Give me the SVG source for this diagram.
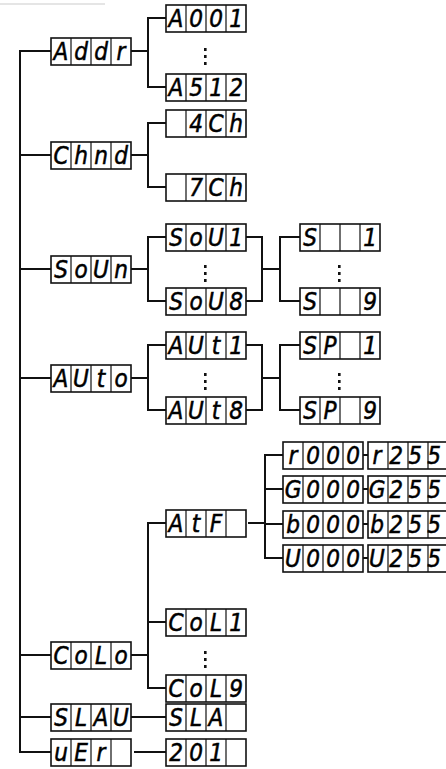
<svg xmlns="http://www.w3.org/2000/svg" width="446" height="769" viewBox="0 0 446 769">
<style>
.b{fill:#fff;stroke:#111;stroke-width:1.6}
.d{fill:none;stroke:#111;stroke-width:1.2}
.t{font-family:"DejaVu Sans Condensed","DejaVu Sans",sans-serif;font-stretch:condensed;font-size:24px;font-style:oblique;fill:#000;stroke:#000;stroke-width:0.5;text-anchor:middle}
.c{fill:none;stroke:#111;stroke-width:2}
.dot{fill:#111}
</style>
<rect width="446" height="769" fill="#fff"/>
<line x1="0" y1="4" x2="105" y2="4" stroke="#ddd" stroke-width="1.5"/>
<defs>
<g id="box"><rect class="b" x="0" y="0" width="80" height="27"/><path class="d" d="M20 0v27M40 0v27M60 0v27"/></g>
</defs>
<g id="connectors">
<path class="c" d="M51 51H20V752H51M20 155H51M20 269H51M20 378H51M20 655H51M20 717H51"/>
<path class="c" d="M131 51H148M166 18H148V87H166"/>
<path class="c" d="M131 155H148M166 123H148V187H166"/>
<path class="c" d="M131 269H148M166 237H148V301H166M246 237H262V301H246M262 269H280M300 237H280V301H300"/>
<path class="c" d="M131 378H148M166 345H148V410H166M246 345H262V410H246M262 378H280M300 345H280V410H300"/>
<path class="c" d="M131 655H148M166 523H148V688H166M148 622H166M248 523H265M283 455H265V558H283M265 489H283M265 524H283M363 455H368M363 489H368M363 524H368M363 558H368"/>
<path class="c" d="M131 717H166M134 752H166"/>
<g class="dot">
<rect x="204" y="48" width="2.6" height="3"/><rect x="204" y="55" width="2.6" height="3"/><rect x="204" y="62" width="2.6" height="3"/>
<rect x="204" y="265" width="2.6" height="3"/><rect x="204" y="272" width="2.6" height="3"/><rect x="204" y="279" width="2.6" height="3"/>
<rect x="338" y="265" width="2.6" height="3"/><rect x="338" y="272" width="2.6" height="3"/><rect x="338" y="279" width="2.6" height="3"/>
<rect x="204" y="373" width="2.6" height="3"/><rect x="204" y="380" width="2.6" height="3"/><rect x="204" y="387" width="2.6" height="3"/>
<rect x="338" y="373" width="2.6" height="3"/><rect x="338" y="380" width="2.6" height="3"/><rect x="338" y="387" width="2.6" height="3"/>
<rect x="204" y="651" width="2.6" height="3"/><rect x="204" y="658" width="2.6" height="3"/><rect x="204" y="665" width="2.6" height="3"/>
</g>
</g>
<g id="addr"><use href="#box" x="51" y="38"/><text class="t" x="61 81 101 121" y="60">Addr</text></g>
<g id="a001"><use href="#box" x="166" y="5"/><text class="t" x="176 196 216 236" y="27">A001</text></g>
<g id="a512"><use href="#box" x="166" y="74"/><text class="t" x="176 196 216 236" y="96">A512</text></g>
<g id="chnd"><use href="#box" x="51" y="142"/><text class="t" x="61 81 101 121" y="164">Chnd</text></g>
<g id="ch4"><use href="#box" x="166" y="110"/><text class="t" x="196 216 236" y="132">4Ch</text></g>
<g id="ch7"><use href="#box" x="166" y="174"/><text class="t" x="196 216 236" y="196">7Ch</text></g>
<g id="soun"><use href="#box" x="51" y="256"/><text class="t" x="61 81 101 121" y="278">SoUn</text></g>
<g id="sou1"><use href="#box" x="166" y="224"/><text class="t" x="176 196 216 236" y="246">SoU1</text></g>
<g id="sou8"><use href="#box" x="166" y="288"/><text class="t" x="176 196 216 236" y="310">SoU8</text></g>
<g id="s1"><use href="#box" x="300" y="224"/><text class="t" x="310 370" y="246">S1</text></g>
<g id="s9"><use href="#box" x="300" y="288"/><text class="t" x="310 370" y="310">S9</text></g>
<g id="auto"><use href="#box" x="51" y="365"/><text class="t" x="61 81 101 121" y="387">AUto</text></g>
<g id="aut1"><use href="#box" x="166" y="332"/><text class="t" x="176 196 216 236" y="354">AUt1</text></g>
<g id="aut8"><use href="#box" x="166" y="397"/><text class="t" x="176 196 216 236" y="419">AUt8</text></g>
<g id="sp1"><use href="#box" x="300" y="332"/><text class="t" x="310 330 370" y="354">SP1</text></g>
<g id="sp9"><use href="#box" x="300" y="397"/><text class="t" x="310 330 370" y="419">SP9</text></g>
<g id="colo"><use href="#box" x="51" y="642"/><text class="t" x="61 81 101 121" y="664">CoLo</text></g>
<g id="atf"><use href="#box" x="166" y="510"/><text class="t" x="176 196 216" y="532">AtF</text></g>
<g id="r000"><use href="#box" x="283" y="442"/><text class="t" x="293 313 333 353" y="464">r000</text></g>
<g id="g000"><use href="#box" x="283" y="476"/><text class="t" x="293 313 333 353" y="498">G000</text></g>
<g id="b000"><use href="#box" x="283" y="511"/><text class="t" x="293 313 333 353" y="533">b000</text></g>
<g id="u000"><use href="#box" x="283" y="545"/><text class="t" x="293 313 333 353" y="567">U000</text></g>
<g id="r255"><use href="#box" x="368" y="442"/><text class="t" x="377 396 415 434" y="464">r255</text></g>
<g id="g255"><use href="#box" x="368" y="476"/><text class="t" x="377 396 415 434" y="498">G255</text></g>
<g id="b255"><use href="#box" x="368" y="511"/><text class="t" x="377 396 415 434" y="533">b255</text></g>
<g id="u255"><use href="#box" x="368" y="545"/><text class="t" x="377 396 415 434" y="567">U255</text></g>
<g id="col1"><use href="#box" x="166" y="609"/><text class="t" x="176 196 216 236" y="631">CoL1</text></g>
<g id="col9"><use href="#box" x="166" y="675"/><text class="t" x="176 196 216 236" y="697">CoL9</text></g>
<g id="slau"><use href="#box" x="51" y="704"/><text class="t" x="61 81 101 121" y="726">SLAU</text></g>
<g id="sla"><use href="#box" x="166" y="704"/><text class="t" x="176 196 216" y="726">SLA</text></g>
<g id="ver"><use href="#box" x="51" y="739"/><text class="t" x="61 81 101" y="761">uEr</text></g>
<g id="v201"><use href="#box" x="166" y="739"/><text class="t" x="176 196 216" y="761">201</text></g>
</svg>
